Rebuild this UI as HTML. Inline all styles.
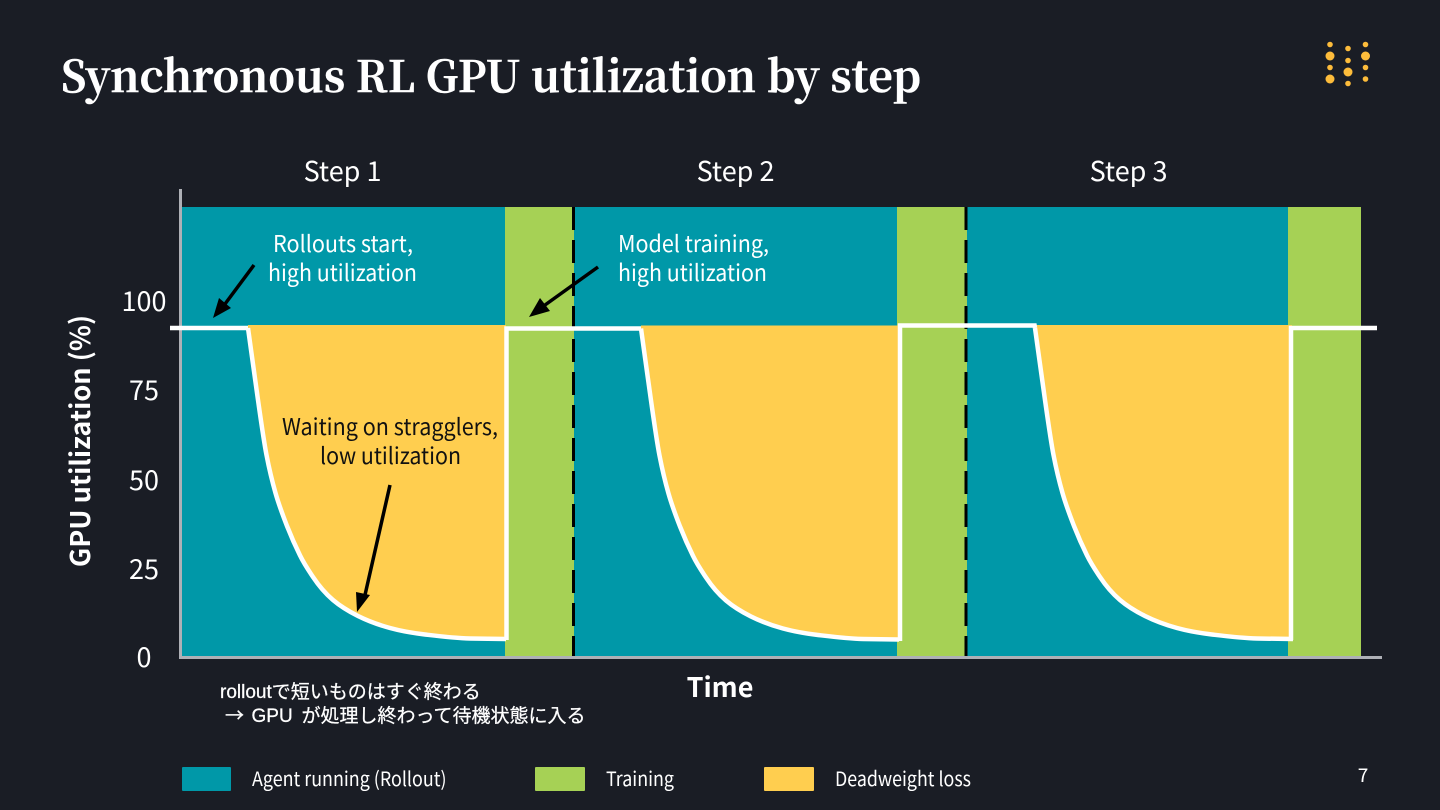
<!DOCTYPE html>
<html><head><meta charset="utf-8"><style>
html,body{margin:0;padding:0;background:#1a1d25;width:1440px;height:810px;overflow:hidden}
svg{display:block}
.s{font-family:"Noto Sans CJK JP","Liberation Sans",sans-serif}
</style></head><body>
<svg width="1440" height="810" viewBox="0 0 1440 810" xmlns="http://www.w3.org/2000/svg">
<defs>
<path id="c" d="M248 328 C251.330 352 254.670 376.700 258 400 C260.830 419.800 263.670 440.300 266.500 455 C269.500 470.600 272.500 482.500 275.500 493 C279.330 506.400 283.170 516.200 287 526 C291.330 537 295.670 546.600 300 555.400 C304.330 564.300 308.670 570.500 313 577 C319.670 587 326.330 594.330 333 600 C341.330 607.100 349.670 611.800 358 616 C368.670 621.300 379.330 625.100 390 628 C401.670 631.200 413.330 633.100 425 634.500 C440 636.300 455 638.200 470 638.500 L506 639"/>
<path id="y" d="M248 328 C251.330 352 254.670 376.700 258 400 C260.830 419.800 263.670 440.300 266.500 455 C269.500 470.600 272.500 482.500 275.500 493 C279.330 506.400 283.170 516.200 287 526 C291.330 537 295.670 546.600 300 555.400 C304.330 564.300 308.670 570.500 313 577 C319.670 587 326.330 594.330 333 600 C341.330 607.100 349.670 611.800 358 616 C368.670 621.300 379.330 625.100 390 628 C401.670 631.200 413.330 633.100 425 634.500 C440 636.300 455 638.200 470 638.500 L506 639 L506 325 L248 325 Z" fill="#ffce4f"/>
</defs>
<rect width="1440" height="810" fill="#1a1d25"/>
<text x="61" y="92" font-family="'Noto Serif CJK SC','Liberation Serif',serif" font-weight="700" font-size="43.500" fill="#fff" stroke="#fff" stroke-width="0.500" textLength="860" lengthAdjust="spacingAndGlyphs">Synchronous RL GPU utilization by step</text>
<g fill="#fdbc3b">
<circle cx="1330" cy="44.500" r="2.800"/><circle cx="1330" cy="56" r="4.500"/><circle cx="1330" cy="67.500" r="2.800"/><circle cx="1330" cy="79" r="4.500"/>
<circle cx="1348" cy="48.500" r="2.800"/><circle cx="1348" cy="60.500" r="2.800"/><circle cx="1348" cy="72" r="4.500"/><circle cx="1348" cy="83.500" r="2.800"/>
<circle cx="1365.500" cy="44.500" r="2.800"/><circle cx="1365.500" cy="56" r="4.500"/><circle cx="1365.500" cy="67.500" r="2.800"/><circle cx="1365.500" cy="79" r="2.800"/>
</g>
<g class="s" font-size="27" fill="#fff" text-anchor="middle">
<text x="342.500" y="181">Step 1</text><text x="735.500" y="181">Step 2</text><text x="1128.500" y="181">Step 3</text>
</g>
<!-- panels -->
<rect x="181" y="207" width="325" height="449" fill="#0098a8"/>
<rect x="505" y="207" width="69" height="449" fill="#a6d155"/>
<rect x="574" y="207" width="324" height="449" fill="#0098a8"/>
<rect x="897" y="207" width="70" height="449" fill="#a6d155"/>
<rect x="967" y="207" width="322" height="449" fill="#0098a8"/>
<rect x="1288" y="207" width="73" height="449" fill="#a6d155"/>
<!-- yellow -->
<use href="#y"/>
<use href="#y" transform="translate(393 0.500)"/>
<use href="#y" transform="translate(786 0)"/>
<!-- dashed -->
<g stroke="#000" stroke-width="3" stroke-dasharray="23 10" fill="none">
<line x1="573.500" y1="207" x2="573.500" y2="656"/>
<line x1="966" y1="207" x2="966" y2="656"/>
</g>
<!-- axes -->
<path d="M180.500 189 V657.500 H1382" fill="none" stroke="#aeb0b6" stroke-width="3"/>
<!-- white line -->
<g fill="none" stroke="#fff" stroke-width="4.500">
<path d="M170 328 H248"/>
<use href="#c"/>
<path d="M506.500 640 V328.500 H641"/>
<use href="#c" transform="translate(393 0.500)"/>
<path d="M900 641 V325.500 H1034.600 L1035 328"/>
<use href="#c" transform="translate(787 0)"/>
<path d="M1291 640 V328 H1377"/>
</g>
<!-- arrows -->
<g stroke="#000" stroke-width="3.500" fill="#000">
<line x1="254" y1="265" x2="225" y2="304"/>
<path d="M213 318 L219 298 L231 308 Z" stroke="none"/>
<line x1="598" y1="267" x2="545" y2="305"/>
<path d="M529 317 L540 298 L550 311 Z" stroke="none"/>
<line x1="390" y1="485" x2="365" y2="595"/>
<path d="M357 612 L356 592 L370 595 Z" stroke="none"/>
</g>
<!-- annotations -->
<g class="s" font-size="23">
<g fill="#fff">
<text x="273" y="252" textLength="140" lengthAdjust="spacingAndGlyphs">Rollouts start,</text>
<text x="268" y="281" textLength="149" lengthAdjust="spacingAndGlyphs">high utilization</text>
<text x="618" y="252" textLength="151" lengthAdjust="spacingAndGlyphs">Model training,</text>
<text x="618" y="281" textLength="149" lengthAdjust="spacingAndGlyphs">high utilization</text>
</g>
<g fill="#111">
<text x="282" y="435" textLength="216" lengthAdjust="spacingAndGlyphs">Waiting on stragglers,</text>
<text x="320" y="464" textLength="141" lengthAdjust="spacingAndGlyphs">low utilization</text>
</g>
</g>
<!-- y labels -->
<g class="s" font-size="27" fill="#fff" text-anchor="middle">
<text x="144" y="311">100</text>
<text x="144" y="400">75</text>
<text x="144" y="490">50</text>
<text x="144" y="579">25</text>
<text x="144" y="667">0</text>
</g>
<text class="s" transform="translate(90 441) rotate(-90)" font-size="27" font-weight="700" fill="#fff" text-anchor="middle">GPU utilization (%)</text>
<text class="s" x="720" y="697" font-size="27" font-weight="700" fill="#fff" text-anchor="middle">Time</text>
<!-- note -->
<g font-family="'Liberation Sans','Noto Sans CJK JP',sans-serif" font-size="19" fill="#fff" stroke="#fff" stroke-width="0.250">
<text x="220" y="698">rolloutで短いものはすぐ終わる</text>
<text x="225" y="722" font-family="'Noto Sans CJK JP',sans-serif">→</text>
<text x="251.500" y="722">GPU</text>
<text x="301.500" y="722">が処理し終わって待機状態に入る</text>
</g>
<!-- legend -->
<rect x="182" y="767" width="49" height="24" rx="1" fill="#0098a8"/>
<rect x="535" y="767" width="50" height="24" rx="1" fill="#a6d155"/>
<rect x="764" y="767" width="50" height="24" rx="1" fill="#ffce4f"/>
<g class="s" font-size="20" fill="#fff">
<text x="252" y="786" textLength="194.500" lengthAdjust="spacingAndGlyphs">Agent running (Rollout)</text>
<text x="606" y="786" textLength="68" lengthAdjust="spacingAndGlyphs">Training</text>
<text x="835" y="786" textLength="136" lengthAdjust="spacingAndGlyphs">Deadweight loss</text>
</g>
<text class="s" x="1363" y="782" font-size="19" fill="#fff" text-anchor="middle">7</text>
</svg>
</body></html>
